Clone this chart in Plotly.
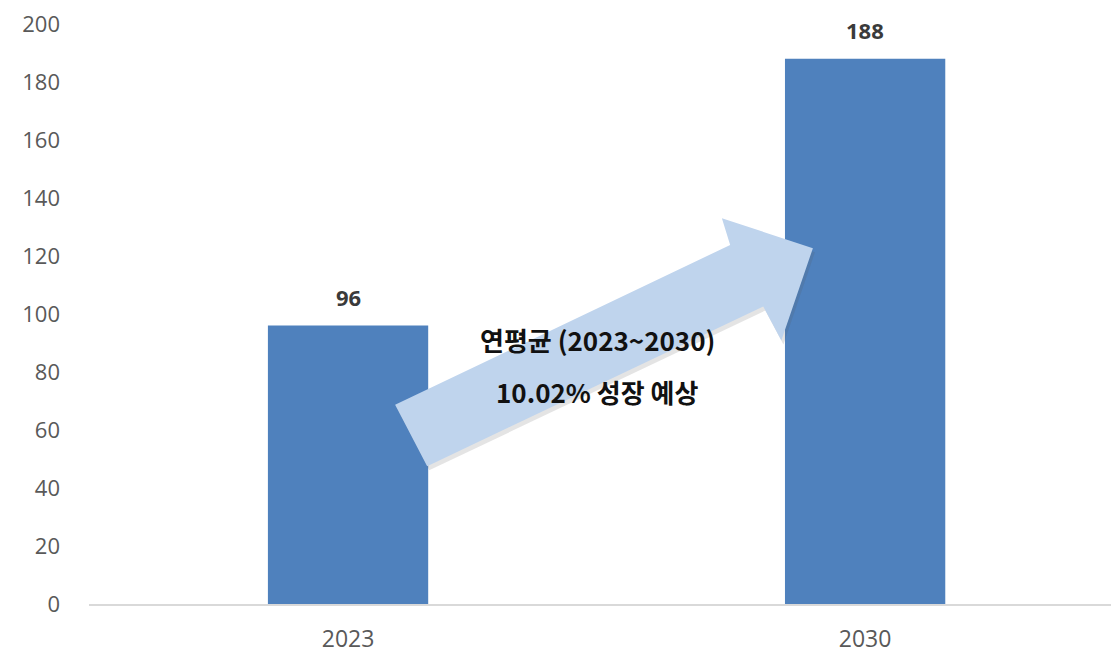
import plotly.graph_objects as go

categories = ["2023", "2030"]
values = [96, 188]
value_labels = ["96", "188"]
y_ticks = [0, 20, 40, 60, 80, 100, 120, 140, 160, 180, 200]
note_line1 = "연평균 (2023~2030)"
note_line2 = "10.02% 성장 예상"

BAR_COLOR = "#4f81bd"
ARROW_COLOR = "#bfd4ed"
TICK_COLOR = "#595959"

# decorative arrow outline (x: category index units, y: value units)
arrow_x = [0.091, 0.739, 0.723, 0.899, 0.838, 0.803, 0.153]
arrow_y = [68.7, 123.8, 133.0, 122.7, 90.9, 102.6, 47.5]


def path_from(xs, ys, dx=0.0, dy=0.0):
    pts = [f"{x + dx},{y + dy}" for x, y in zip(xs, ys)]
    return "M " + " L ".join(pts) + " Z"


fig = go.Figure()
fig.add_trace(go.Bar(
    x=categories, y=values, marker=dict(color=BAR_COLOR, line=dict(width=0)),
    width=0.31, hoverinfo="skip",
))

shapes = [
    dict(type="path", xref="x", yref="y", path=path_from(arrow_x, arrow_y, 0.004, -1.4),
         fillcolor="rgba(90,90,90,0.16)", line=dict(width=0), layer="above"),
    dict(type="path", xref="x", yref="y", path=path_from(arrow_x, arrow_y),
         fillcolor=ARROW_COLOR, line=dict(width=0), layer="above"),
]

annotations = []
for i, (v, lab) in enumerate(zip(values, value_labels)):
    annotations.append(dict(x=i, y=v, xref="x", yref="y", text=f"<b>{lab}</b>", showarrow=False,
                            yanchor="bottom", yshift=12,
                            font=dict(family="Open Sans", size=22, color="#3a3a3a")))
annotations.append(dict(x=0.482, y=91.3, xref="x", yref="y", text=f"<b>{note_line1}</b>",
                        showarrow=False, font=dict(family="Noto Sans CJK KR", size=26, color="#111111")))
annotations.append(dict(x=0.482, y=73.2, xref="x", yref="y", text=f"<b>{note_line2}</b>",
                        showarrow=False, font=dict(family="Noto Sans CJK KR", size=26, color="#111111")))

fig.update_layout(
    width=1111, height=656,
    margin=dict(l=81, r=0, t=11, b=60),
    paper_bgcolor="white", plot_bgcolor="white",
    showlegend=False,
    shapes=shapes,
    annotations=annotations,
    xaxis=dict(type="category", range=[-0.501, 1.491], showgrid=False, zeroline=False,
               showline=True, linecolor="#d9d9d9", linewidth=1.5, ticks="",
               ticklabelstandoff=14,
               tickfont=dict(family="Open Sans", size=23, color=TICK_COLOR)),
    yaxis=dict(range=[0, 200], tickvals=y_ticks, showgrid=False, zeroline=False,
               showline=False, ticks="", ticklabelstandoff=28, ticklabeloverflow="allow",
               tickfont=dict(family="Open Sans", size=22, color=TICK_COLOR)),
)

fig.write_html("out.html")
